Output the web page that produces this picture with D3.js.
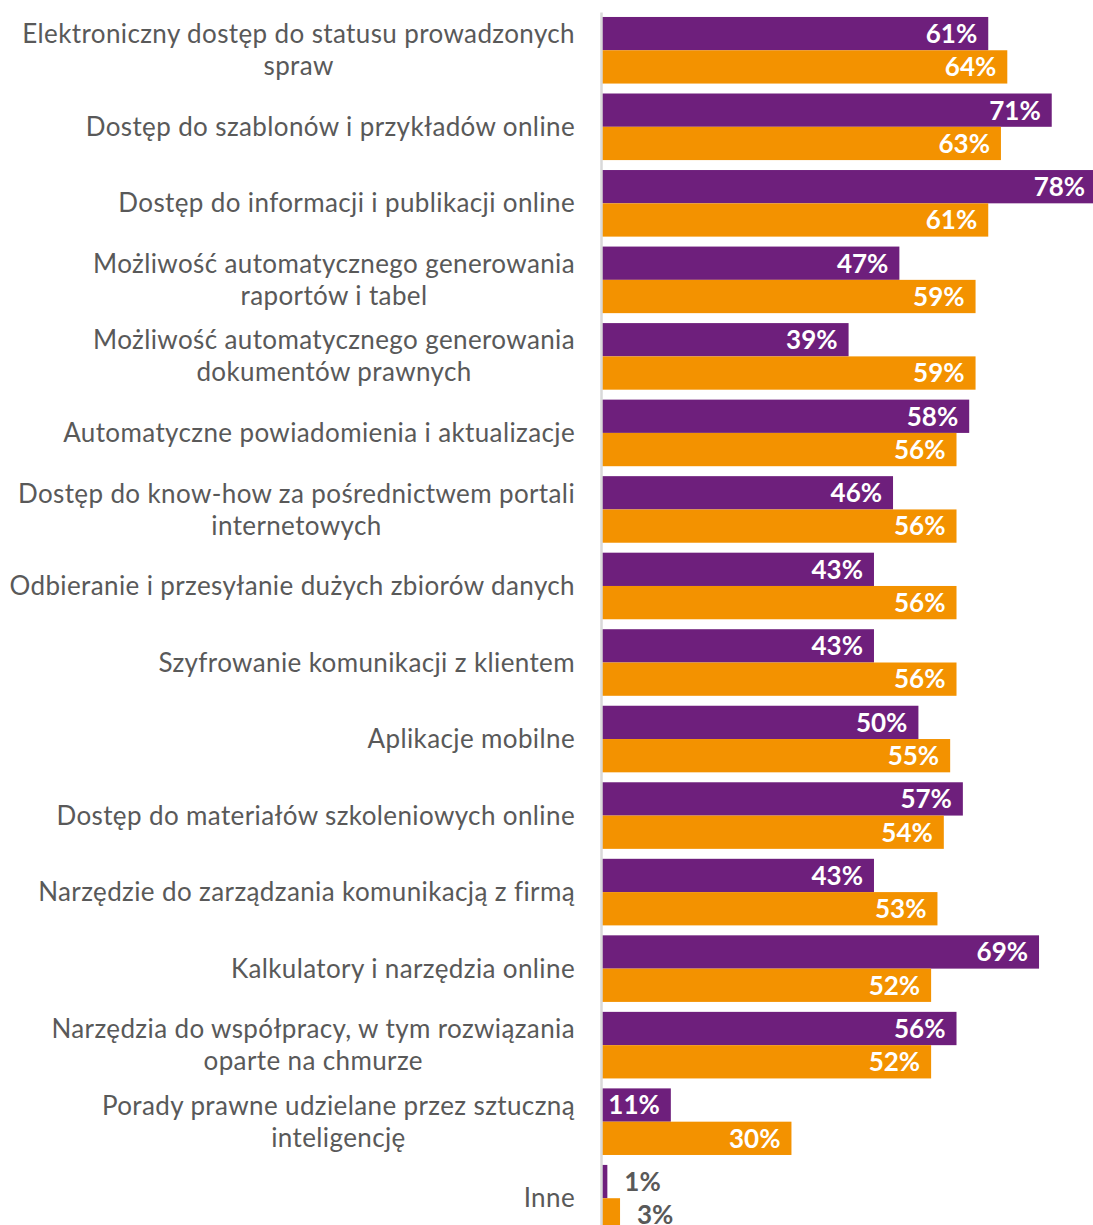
<!DOCTYPE html>
<html><head><meta charset="utf-8">
<script src="https://cdn.jsdelivr.net/npm/d3@7"></script>
<style>
html,body{margin:0;padding:0;background:#fff;overflow:hidden;}
text{font-family:Lato,"Open Sans",sans-serif;}
</style></head>
<body>
<svg id="chart" width="1093" height="1260"></svg>
<script>
const categories = [
  "Elektroniczny dostęp do statusu prowadzonych\nspraw",
  "Dostęp do szablonów i przykładów online",
  "Dostęp do informacji i publikacji online",
  "Możliwość automatycznego generowania\nraportów i tabel",
  "Możliwość automatycznego generowania\ndokumentów prawnych",
  "Automatyczne powiadomienia i aktualizacje",
  "Dostęp do know-how za pośrednictwem portali\ninternetowych",
  "Odbieranie i przesyłanie dużych zbiorów danych",
  "Szyfrowanie komunikacji z klientem",
  "Aplikacje mobilne",
  "Dostęp do materiałów szkoleniowych online",
  "Narzędzie do zarządzania komunikacją z firmą",
  "Kalkulatory i narzędzia online",
  "Narzędzia do współpracy, w tym rozwiązania\noparte na chmurze",
  "Porady prawne udzielane przez sztuczną\ninteligencję",
  "Inne"
];
const seriesA = [61, 71, 78, 47, 39, 58, 46, 43, 43, 50, 57, 43, 69, 56, 11, 1];
const seriesB = [64, 63, 61, 59, 59, 56, 56, 56, 56, 55, 54, 53, 52, 52, 30, 3];
const seriesNames = ["A", "B"];
const colors = ["#6E1F7C", "#F39200"];

const svg = d3.select("#chart");
const x0 = 601;
const x = d3.scaleLinear().domain([0, 77.5]).range([x0, 1093]);
const step = 76.53;
const y = d3.scaleBand().domain(categories)
  .range([12, 12 + 16 * step]).paddingInner(0.13).paddingOuter(0.065);
const ySub = d3.scaleBand().domain(seriesNames).range([0, y.bandwidth()]);

const rows = categories.map((c, i) => ({c, vals: [seriesA[i], seriesB[i]]}));

const g = svg.selectAll("g.row").data(rows).join("g").attr("class", "row")
  .attr("transform", d => `translate(0,${y(d.c)})`);

g.selectAll("rect").data(d => d.vals.map((v, j) => ({v, j})))
  .join("rect")
  .attr("x", x(0))
  .attr("y", d => ySub(seriesNames[d.j]))
  .attr("width", d => x(d.v) - x(0))
  .attr("height", ySub.bandwidth())
  .attr("fill", d => colors[d.j]);

g.selectAll("text.val").data(d => d.vals.map((v, j) => ({v, j})))
  .join("text").attr("class", "val")
  .attr("x", d => d.v >= 10 ? x(d.v) - 11 : x(d.v) + 17)
  .attr("y", d => ySub(seriesNames[d.j]) + ySub.bandwidth() / 2)
  .attr("dy", "0.36em")
  .attr("text-anchor", d => d.v >= 10 ? "end" : "start")
  .attr("font-size", 26).attr("font-weight", 700)
  .attr("fill", d => d.v >= 10 ? "#ffffff" : "#595959")
  .text(d => d.v + "%");

// axis
const axis = svg.append("g").attr("transform", `translate(${x0},0)`)
  .call(d3.axisLeft(y).tickSize(0).tickFormat(""));
axis.select(".domain").attr("stroke", "#d9d9d9").attr("stroke-width", 2.5);

// category labels (block right-aligned at 575, lines centred within the block)
const right = 575;
const lab = svg.selectAll("g.cat").data(categories).join("g").attr("class", "cat");
lab.each(function(c) {
  const lines = c.split("\n");
  const cy = y(c) + y.bandwidth() / 2;
  const lh = 32;
  const gg = d3.select(this);
  const ts = gg.selectAll("text").data(lines).join("text")
    .attr("font-size", 26)
    .attr("letter-spacing", 0.38)
    .attr("fill", "#595959")
    .attr("y", (l, k) => cy + (k - (lines.length - 1) / 2) * lh)
    .attr("dy", "0.35em")
    .text(l => l);
  let maxW = 0;
  ts.each(function() { maxW = Math.max(maxW, this.getComputedTextLength()); });
  ts.attr("text-anchor", "middle").attr("x", right - maxW / 2);
});
</script>
</body></html>
